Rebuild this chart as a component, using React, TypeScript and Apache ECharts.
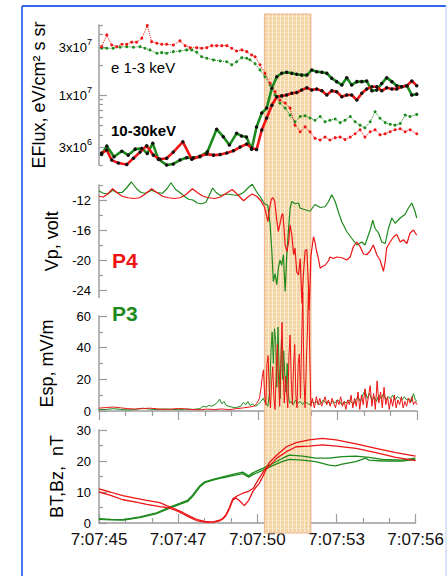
import React, { useEffect, useRef } from 'react';
import * as echarts from 'echarts';

// Time is given in seconds after 7:07:45 UT.
const timeMin = 0;
const timeMax = 11;
const timeStep = 2.75;
const burstWindow = [5.72, 7.33];

// Electron energy flux, in units of 1e6 eV/cm2 s sr: [t, flux]
const eLowP4: [number, number][] = [
  [0.09, 30.4], [0.27, 39.8], [0.44, 31.6], [0.61, 30.4], [0.79, 32.1], [0.96, 32.1], [1.13, 33.7], [1.3, 33.7],
  [1.48, 36.9], [1.67, 49.3], [1.82, 34.1], [2.0, 32.9], [2.17, 32.1], [2.34, 32.1], [2.57, 31.6], [2.8, 34.7],
  [2.98, 31.1], [3.15, 29.7], [3.38, 29.7], [3.55, 29.3], [3.73, 29.7], [3.9, 31.1], [4.07, 31.1], [4.25, 31.1],
  [4.42, 31.1], [4.59, 29.3], [4.76, 27.5], [4.94, 28.2], [5.11, 27.1], [5.28, 25.1], [5.4, 24.1], [5.57, 20.0],
  [5.74, 16.5], [5.92, 13.1], [6.09, 10.8], [6.26, 8.9], [6.44, 8.3], [6.61, 7.4], [6.78, 5.0], [6.96, 4.3],
  [7.13, 4.8], [7.3, 4.3], [7.47, 3.7], [7.65, 3.55], [7.82, 3.8], [7.99, 3.55], [8.17, 3.75], [8.34, 3.8],
  [8.51, 3.6], [8.69, 3.8], [8.86, 4.1], [9.03, 4.5], [9.2, 3.8], [9.38, 4.3], [9.55, 4.5], [9.72, 4.0],
  [9.9, 4.1], [10.07, 4.3], [10.24, 4.5], [10.42, 4.6], [10.59, 4.3], [10.76, 4.5], [10.99, 4.1],
];
const eLowP3: [number, number][] = [
  [0.09, 29.3], [0.27, 29.3], [0.49, 29.3], [0.73, 30.0], [0.96, 30.4], [1.19, 30.0], [1.42, 30.4], [1.59, 29.3],
  [1.76, 28.2], [2.0, 26.1], [2.17, 26.5], [2.34, 26.1], [2.57, 27.1], [2.8, 27.5], [3.03, 28.2], [3.21, 28.2],
  [3.38, 26.7], [3.55, 24.1], [3.73, 23.3], [3.96, 22.4], [4.19, 21.9], [4.42, 21.5], [4.59, 20.0], [4.76, 21.5],
  [4.94, 23.6], [5.11, 23.3], [5.22, 22.5], [5.4, 20.5], [5.57, 17.8], [5.74, 15.2], [5.92, 12.6], [6.09, 10.0],
  [6.26, 8.3], [6.44, 7.4], [6.61, 6.3], [6.78, 5.4], [6.96, 6.1], [7.13, 6.2], [7.3, 5.9], [7.47, 5.6],
  [7.65, 6.1], [7.82, 5.4], [7.99, 5.6], [8.17, 5.75], [8.34, 5.3], [8.51, 5.6], [8.69, 6.1], [8.86, 5.4],
  [9.03, 5.0], [9.2, 4.7], [9.38, 5.4], [9.55, 6.8], [9.72, 5.85], [9.9, 5.3], [10.07, 5.1], [10.24, 5.0],
  [10.42, 5.2], [10.59, 6.3], [10.76, 6.1], [10.99, 6.4],
];
const eHighP4: [number, number][] = [
  [0.09, 2.63], [0.27, 2.82], [0.44, 2.24], [0.67, 2.09], [0.96, 2.02], [1.19, 2.34], [1.42, 2.69], [1.65, 3.11],
  [1.88, 2.51], [2.11, 2.28], [2.34, 2.34], [2.57, 2.69], [2.9, 3.41], [3.21, 2.28], [3.49, 2.45], [3.72, 2.57],
  [3.96, 2.51], [4.19, 2.54], [4.42, 2.63], [4.65, 2.77], [4.88, 3.02], [5.11, 3.24], [5.28, 2.95], [5.45, 2.85],
  [5.63, 4.47], [5.8, 5.9], [5.98, 7.9], [6.15, 9.6], [6.32, 9.8], [6.49, 10.0], [6.67, 10.4], [6.84, 10.6],
  [7.01, 11.2], [7.19, 11.8], [7.36, 11.2], [7.53, 11.5], [7.71, 11.0], [7.88, 10.0], [8.05, 11.0], [8.22, 10.8],
  [8.4, 9.6], [8.57, 10.0], [8.74, 10.0], [8.92, 8.9], [9.09, 10.4], [9.26, 11.5], [9.44, 12.1], [9.61, 12.1],
  [9.78, 11.0], [9.95, 11.8], [10.13, 11.5], [10.3, 11.5], [10.47, 12.1], [10.65, 12.4], [10.82, 13.8], [10.99, 12.4],
];
const eHighP3: [number, number][] = [
  [0.09, 2.55], [0.27, 3.09], [0.52, 2.42], [0.79, 2.75], [1.01, 2.51], [1.25, 2.88], [1.48, 2.93], [1.67, 2.61],
  [1.86, 3.29], [2.05, 2.29], [2.34, 2.0], [2.57, 2.05], [2.8, 2.24], [3.03, 2.36], [3.26, 2.36], [3.49, 2.42],
  [3.75, 2.71], [4.07, 4.54], [4.3, 3.83], [4.51, 3.16], [4.76, 4.14], [4.93, 3.9], [5.1, 3.8], [5.28, 2.87],
  [5.45, 4.8], [5.63, 6.6], [5.8, 7.4], [5.98, 11.7], [6.15, 15.2], [6.32, 16.5], [6.49, 16.9], [6.67, 16.5],
  [6.84, 16.1], [7.01, 15.8], [7.19, 15.8], [7.36, 17.8], [7.53, 17.1], [7.71, 16.9], [7.88, 16.5], [8.05, 14.7],
  [8.22, 13.6], [8.4, 12.6], [8.57, 14.9], [8.74, 12.6], [8.92, 13.6], [9.09, 13.6], [9.26, 13.8], [9.44, 11.0],
  [9.61, 11.2], [9.78, 13.0], [9.95, 14.9], [10.13, 13.6], [10.3, 12.4], [10.47, 12.1], [10.65, 12.4], [10.82, 10.0],
  [10.99, 10.2],
];
const fluxMajorTicks = [3, 10, 30];
const fluxMinorTicks = [2, 4, 5, 6, 7, 8, 9, 20, 40, 50];
const fluxTickText: Record<number, [string, string]> = { 3: ['3x10', '6'], 10: ['1x10', '7'], 30: ['3x10', '7'] };

// Probe potential, volt: [t, Vp]
const vpP4: [number, number][] = [
  [0.0, -11.5], [0.15, -11.6], [0.3, -11.2], [0.47, -10.5], [0.62, -11.0], [0.8, -11.5], [1.0, -11.7], [1.2, -11.8],
  [1.4, -11.7], [1.6, -11.2], [1.82, -10.5], [2.0, -11.0], [2.2, -11.5], [2.4, -11.7], [2.6, -11.8], [2.8, -11.7],
  [3.0, -11.3], [3.23, -10.5], [3.4, -11.0], [3.6, -11.5], [3.8, -11.7], [4.0, -11.8], [4.2, -11.6], [4.4, -11.1],
  [4.61, -10.6], [4.8, -11.3], [5.0, -12.1], [5.15, -11.6], [5.3, -11.2], [5.45, -11.5], [5.6, -12.1], [5.72, -12.9],
  [5.78, -13.8], [5.84, -14.9], [5.9, -13.2], [5.96, -11.9], [6.02, -11.7], [6.08, -12.2], [6.14, -14.4], [6.2, -16.2],
  [6.26, -15.2], [6.32, -14.0], [6.36, -13.8], [6.4, -15.8], [6.44, -18.0], [6.5, -18.9], [6.56, -17.6], [6.61, -15.3],
  [6.67, -16.6], [6.73, -19.3], [6.78, -18.4], [6.84, -21.6], [6.9, -22.0], [6.96, -19.8], [7.02, -25.8], [7.07, -22.0],
  [7.13, -18.7], [7.19, -18.6], [7.24, -22.9], [7.27, -26.7], [7.3, -23.5], [7.33, -19.5], [7.42, -16.9], [7.47, -17.6],
  [7.53, -18.9], [7.59, -19.8], [7.65, -21.1], [7.71, -20.9], [7.82, -20.7], [7.94, -20.1], [7.99, -19.6], [8.11, -19.8],
  [8.22, -19.6], [8.4, -19.7], [8.57, -20.0], [8.69, -19.6], [8.8, -18.2], [8.92, -17.6], [9.03, -18.2], [9.15, -19.2],
  [9.26, -19.3], [9.38, -18.8], [9.49, -18.0], [9.61, -19.3], [9.72, -20.0], [9.84, -21.5], [9.9, -20.2], [9.95, -18.4],
  [10.07, -17.6], [10.19, -16.9], [10.3, -16.6], [10.42, -17.6], [10.53, -17.3], [10.65, -17.8], [10.76, -16.4],
  [10.88, -16.0], [10.99, -16.7],
];
const vpP3: [number, number][] = [
  [0.0, -10.8], [0.15, -11.1], [0.3, -11.2], [0.47, -10.7], [0.62, -11.0], [0.8, -11.0], [0.95, -10.4], [1.12, -9.6],
  [1.3, -10.5], [1.45, -11.0], [1.6, -11.1], [1.82, -10.7], [2.0, -11.0], [2.2, -11.1], [2.35, -10.5], [2.49, -9.7],
  [2.65, -10.6], [2.8, -11.0], [2.95, -11.5], [3.1, -11.9], [3.25, -12.0], [3.4, -12.4], [3.55, -12.5], [3.7, -12.3],
  [3.8, -11.5], [3.93, -10.4], [4.05, -11.0], [4.2, -11.4], [4.4, -11.2], [4.6, -11.3], [4.8, -11.4], [5.0, -11.0],
  [5.15, -10.4], [5.3, -9.9], [5.45, -10.9], [5.6, -11.7], [5.72, -12.5], [5.84, -12.7], [5.92, -15.3], [5.98, -18.9],
  [6.03, -22.9], [6.09, -21.8], [6.15, -23.3], [6.2, -21.2], [6.26, -20.0], [6.32, -20.7], [6.38, -19.3], [6.41, -21.9],
  [6.44, -24.2], [6.49, -19.8], [6.55, -16.2], [6.61, -13.1], [6.67, -12.2], [6.78, -12.5], [6.9, -12.4], [6.96, -13.1],
  [7.13, -13.3], [7.3, -13.5], [7.47, -12.6], [7.65, -13.0], [7.82, -12.9], [7.94, -12.2], [8.05, -11.3], [8.17, -12.2],
  [8.28, -13.6], [8.4, -14.9], [8.57, -16.2], [8.74, -17.1], [8.92, -18.0], [9.09, -17.6], [9.2, -18.0], [9.38, -16.0],
  [9.47, -14.7], [9.55, -15.8], [9.67, -16.4], [9.78, -17.6], [9.9, -17.8], [10.01, -15.8], [10.13, -14.4],
  [10.24, -15.1], [10.42, -14.4], [10.59, -13.9], [10.7, -13.1], [10.82, -12.4], [10.93, -13.5], [10.99, -14.4],
];
const vpMajorTicks = [-24, -20, -16, -12];
const vpMinorTicks = [-22, -18, -14, -10];

// Electric field amplitude, mV/m: [t, Esp]
const espP4: [number, number][] = [
  [0.0, 1.8], [0.25, 2.2], [0.5, 2.5], [0.75, 2.0], [1.0, 1.5], [1.25, 1.2], [1.5, 1.5], [1.75, 1.8], [2.0, 1.4],
  [2.25, 1.0], [2.5, 1.2], [2.75, 1.6], [3.0, 1.3], [3.25, 0.9], [3.5, 0.8], [3.75, 1.2], [4.0, 0.9], [4.25, 1.3],
  [4.5, 0.8], [4.75, 1.5], [5.0, 2.0], [5.2, 2.5], [5.35, 3.0], [5.45, 4.5], [5.55, 8], [5.6, 14], [5.65, 22],
  [5.69, 26], [5.73, 10], [5.77, 4], [5.81, 30], [5.85, 35], [5.89, 12], [5.93, 2], [5.97, 18], [6.01, 28], [6.05, 8],
  [6.09, 1], [6.13, 25], [6.17, 42], [6.21, 20], [6.25, 3], [6.29, 30], [6.33, 56], [6.37, 25], [6.41, 5], [6.45, 22],
  [6.49, 12], [6.53, 2], [6.57, 35], [6.61, 48], [6.65, 20], [6.69, 4], [6.73, 28], [6.77, 42], [6.81, 10], [6.85, 2],
  [6.89, 30], [6.93, 36], [6.97, 8], [7.01, 45], [7.05, 75], [7.09, 20], [7.13, 2], [7.17, 30], [7.21, 50], [7.25, 80],
  [7.29, 35], [7.33, 3], [7.38, 8], [7.45, 2], [7.52, 9], [7.58, 4], [7.64, 8], [7.7, 3], [7.76, 6], [7.82, 9],
  [7.88, 4], [7.94, 7], [8.0, 3], [8.06, 8], [8.12, 5], [8.18, 2], [8.24, 7], [8.3, 4], [8.36, 9], [8.42, 3], [8.48, 6],
  [8.54, 1], [8.6, 7], [8.66, 4], [8.72, 10], [8.78, 2], [8.84, 8], [8.9, 3], [8.96, 12], [9.02, 1], [9.08, 10],
  [9.14, 4], [9.2, 14], [9.26, 2], [9.32, 9], [9.38, 16], [9.44, 3], [9.5, 11], [9.56, 1], [9.62, 19], [9.68, 5],
  [9.74, 12], [9.8, 2], [9.86, 15], [9.92, 4], [9.98, 9], [10.04, 1], [10.1, 8], [10.16, 3], [10.22, 10], [10.28, 2],
  [10.34, 7], [10.4, 4], [10.46, 9], [10.52, 2], [10.58, 6], [10.64, 3], [10.7, 8], [10.76, 5], [10.82, 9], [10.88, 4],
  [10.94, 6], [11.0, 4],
];
const espP3: [number, number][] = [
  [0.0, 0.8], [0.25, 1.0], [0.5, 1.5], [0.75, 1.0], [1.0, 0.7], [1.25, 1.0], [1.5, 1.8], [1.75, 1.2], [2.0, 0.9],
  [2.25, 1.3], [2.5, 1.0], [2.75, 0.8], [3.0, 1.2], [3.25, 1.0], [3.5, 1.5], [3.6, 3.0], [3.7, 2.5], [3.8, 3.5],
  [3.9, 3.0], [4.0, 4.0], [4.1, 5.5], [4.17, 7.5], [4.25, 4.5], [4.32, 6.0], [4.4, 3.5], [4.5, 3.0], [4.6, 2.5],
  [4.7, 2.0], [4.8, 2.5], [4.9, 3.0], [5.0, 5.5], [5.08, 4.0], [5.15, 6.0], [5.22, 3.5], [5.3, 4.5], [5.4, 3.0],
  [5.5, 4.0], [5.6, 6], [5.68, 8], [5.76, 5], [5.84, 3], [5.9, 12], [5.95, 38], [5.99, 50], [6.03, 30], [6.07, 52],
  [6.11, 45], [6.15, 15], [6.19, 53], [6.23, 28], [6.27, 8], [6.31, 45], [6.35, 20], [6.39, 38], [6.43, 22],
  [6.47, 12], [6.51, 30], [6.55, 10], [6.59, 5], [6.65, 6], [6.72, 4], [6.8, 7], [6.88, 5], [6.96, 6], [7.04, 4],
  [7.12, 6], [7.2, 5], [7.28, 4], [7.36, 6], [7.44, 5], [7.52, 6], [7.6, 4], [7.68, 5], [7.76, 7], [7.84, 5],
  [7.92, 6], [8.0, 4], [8.08, 6], [8.16, 5], [8.24, 7], [8.32, 6], [8.4, 4], [8.48, 6], [8.56, 5], [8.64, 7],
  [8.72, 6], [8.8, 4], [8.88, 7], [8.96, 9], [9.04, 6], [9.12, 10], [9.2, 13], [9.28, 8], [9.36, 11], [9.44, 7],
  [9.52, 9], [9.6, 6], [9.68, 10], [9.76, 8], [9.84, 11], [9.92, 7], [10.0, 9], [10.08, 8], [10.16, 10], [10.24, 7],
  [10.32, 9], [10.4, 8], [10.48, 7], [10.56, 9], [10.64, 7], [10.72, 8], [10.8, 6], [10.88, 11], [10.94, 7], [11.0, 6],
];

// Magnetic field, nT: [t, B]
const bP4Upper: [number, number][] = [
  [0.0, 11.0], [0.38, 10.0], [0.83, 8.8], [1.25, 8.0], [1.66, 7.3], [2.11, 6.6], [2.35, 5.6], [2.63, 4.6],
  [2.91, 3.4], [3.15, 2.2], [3.39, 1.2], [3.67, 0.5], [3.94, 0.3], [4.19, 0.9], [4.3, 1.5], [4.42, 2.8],
  [4.53, 5.0], [4.65, 7.8], [4.81, 8.8], [5.0, 9.6], [5.17, 10.1], [5.36, 11.2], [5.53, 13.9], [5.64, 15.5],
  [5.74, 17.0], [5.92, 19.5], [6.19, 22.0], [6.51, 24.6], [6.85, 25.9], [7.3, 26.8], [7.75, 27.3], [8.24, 26.8],
  [8.93, 25.5], [9.62, 24.1], [10.31, 22.7], [11.0, 21.6],
];
const bP4Lower: [number, number][] = [
  [0.0, 10.0], [0.38, 9.0], [0.83, 7.5], [1.25, 6.8], [1.66, 6.0], [2.11, 5.3], [2.35, 5.0], [2.63, 4.2],
  [2.91, 3.0], [3.15, 1.8], [3.39, 0.8], [3.67, 0.3], [3.94, 0.2], [4.19, 0.7], [4.3, 1.3], [4.42, 2.5],
  [4.53, 4.6], [4.65, 7.4], [4.76, 8.1], [4.9, 7.0], [5.05, 5.6], [5.2, 7.3], [5.34, 10.1], [5.45, 11.5],
  [5.57, 12.8], [5.69, 15.0], [5.8, 17.2], [5.98, 19.0], [6.19, 21.0], [6.51, 23.0], [6.85, 24.6], [7.3, 24.8],
  [7.75, 25.2], [8.24, 24.8], [8.93, 24.1], [9.62, 22.7], [10.31, 21.2], [11.0, 20.1],
];
const bP3Upper: [number, number][] = [
  [0.0, 1.4], [0.42, 1.2], [0.84, 1.1], [1.42, 2.0], [2.0, 3.3], [2.46, 5.1], [2.8, 6.3], [3.09, 7.4], [3.25, 9.0],
  [3.38, 10.6], [3.52, 12.2], [3.67, 13.3], [3.96, 14.1], [4.3, 14.9], [4.65, 15.7], [4.99, 16.4], [5.2, 15.2],
  [5.34, 16.2], [5.69, 17.6], [6.03, 19.2], [6.38, 20.9], [6.61, 21.9], [7.07, 21.6], [7.53, 20.9], [7.99, 20.9],
  [8.45, 21.4], [8.92, 21.6], [9.38, 21.2], [9.84, 20.5], [10.53, 20.3], [10.99, 20.9],
];
const bP3Lower: [number, number][] = [
  [0.0, 1.2], [0.42, 1.0], [0.84, 0.9], [1.42, 1.7], [2.0, 3.0], [2.46, 4.8], [2.8, 6.0], [3.09, 7.0], [3.25, 8.5],
  [3.38, 10.1], [3.52, 11.8], [3.67, 13.0], [3.96, 13.8], [4.3, 14.6], [4.65, 15.3], [4.99, 15.9], [5.2, 14.8],
  [5.34, 15.6], [5.69, 17.0], [6.03, 18.5], [6.38, 19.9], [6.61, 20.5], [7.07, 20.3], [7.53, 19.8], [7.99, 18.7],
  [8.22, 18.4], [8.45, 19.0], [8.92, 19.8], [9.26, 20.9], [9.38, 20.3], [9.84, 20.0], [10.53, 20.0], [10.99, 20.5],
];

const FONT = "'Liberation Sans', Arial, Helvetica, sans-serif";
const RED = '#ee1414';
const GREEN = '#1c8a1c';
const AXIS = '#9c9c9c';

const timeLabel = (v: number) => `7:07:${45 + Math.floor(v + 1e-6)}`;

const plotLeft = 99;
const plotWidth = 318;

function timeAxis(gridIndex: number, extra: Record<string, unknown> = {}) {
  return {
    type: 'value', gridIndex, min: timeMin, max: timeMax, interval: timeStep,
    splitLine: { show: false }, show: false, ...extra,
  };
}

function buildOption(bandFill: unknown) {
  const axisLine = { show: true, lineStyle: { color: AXIS, width: 1.5 } };
  const tickStyle = { color: AXIS, width: 1.2 };
  const labelStyle = { color: '#000', fontSize: 13, fontFamily: FONT };
  const nameStyle = { color: '#000', fontSize: 18, fontFamily: FONT };
  const line = (data: [number, number][], color: string, width: number, xi: number, yi: number, extra = {}) => ({
    type: 'line', data, xAxisIndex: xi, yAxisIndex: yi, symbol: 'none', z: 3,
    lineStyle: { color, width }, itemStyle: { color }, ...extra,
  });

  return {
    animation: false,
    backgroundColor: '#ffffff',
    textStyle: { fontFamily: FONT },
    grid: [
      { left: plotLeft, width: plotWidth, top: 25, height: 140 },
      { left: plotLeft, width: plotWidth, top: 185, height: 112.5 },
      { left: plotLeft, width: plotWidth, top: 316, height: 95 },
      { left: plotLeft, width: plotWidth, top: 430, height: 93 },
      { left: plotLeft, width: plotWidth, top: 14, height: 519 },
    ],
    xAxis: [
      timeAxis(0),
      timeAxis(1),
      timeAxis(2, {
        show: true, axisLine,
        axisTick: { show: true, inside: false, length: 9, lineStyle: tickStyle },
        minorTick: { show: true, splitNumber: 3, length: 5, lineStyle: tickStyle },
        axisLabel: { show: false },
      }),
      timeAxis(3, {
        show: true, axisLine,
        axisTick: { show: true, inside: true, length: 9, lineStyle: tickStyle },
        minorTick: { show: true, splitNumber: 3, length: 5, lineStyle: tickStyle },
        axisLabel: { show: true, color: '#111', fontSize: 17, fontFamily: FONT, margin: 8, formatter: timeLabel },
      }),
      timeAxis(4),
    ],
    yAxis: [
      {
        type: 'log', gridIndex: 0, min: 2, max: 50, position: 'left',
        name: 'EFlux, eV/cm² s sr', nameLocation: 'middle', nameRotate: 90, nameGap: 50, nameTextStyle: nameStyle,
        axisLine, splitLine: { show: false },
        axisTick: { show: true, inside: true, length: 8, lineStyle: tickStyle, customValues: fluxMajorTicks },
        axisLabel: {
          show: true, margin: 7, customValues: fluxMajorTicks,
          formatter: (v: number) => {
            const t = fluxTickText[Math.round(v)];
            return t ? `{b|${t[0]}}{s|${t[1]}}` : '';
          },
          rich: {
            b: { fontSize: 13, color: '#000', fontFamily: FONT, lineHeight: 20 },
            s: { fontSize: 9, color: '#000', fontFamily: FONT, verticalAlign: 'top' },
          },
        },
      },
      {
        type: 'log', gridIndex: 0, min: 2, max: 50, position: 'left', offset: 0,
        axisLine: { show: false }, splitLine: { show: false }, axisLabel: { show: false },
        axisTick: { show: true, inside: true, length: 4, lineStyle: tickStyle, customValues: fluxMinorTicks },
      },
      {
        type: 'value', gridIndex: 1, min: -25, max: -10, position: 'left',
        name: 'Vp, volt', nameLocation: 'middle', nameRotate: 90, nameGap: 33, nameTextStyle: nameStyle,
        axisLine, splitLine: { show: false },
        axisTick: { show: true, inside: true, length: 8, lineStyle: tickStyle, customValues: vpMajorTicks },
        axisLabel: { show: true, margin: 8, customValues: vpMajorTicks, ...labelStyle },
      },
      {
        type: 'value', gridIndex: 1, min: -25, max: -10, position: 'left', offset: 0,
        axisLine: { show: false }, splitLine: { show: false }, axisLabel: { show: false },
        axisTick: { show: true, inside: true, length: 4, lineStyle: tickStyle, customValues: vpMinorTicks },
      },
      {
        type: 'value', gridIndex: 2, min: 0, max: 60, interval: 20, position: 'left',
        name: 'Esp, mV/m', nameLocation: 'middle', nameRotate: 90, nameGap: 43, nameTextStyle: nameStyle,
        axisLine, splitLine: { show: false },
        axisTick: { show: true, inside: true, length: 8, lineStyle: tickStyle },
        minorTick: { show: true, splitNumber: 2, length: 4, lineStyle: tickStyle },
        axisLabel: { show: true, margin: 8, ...labelStyle },
      },
      {
        type: 'value', gridIndex: 3, min: 0, max: 30, interval: 10, position: 'left',
        name: 'BT,Bz,  nT', nameLocation: 'middle', nameRotate: 90, nameGap: 29, nameTextStyle: nameStyle,
        axisLine, splitLine: { show: false },
        axisTick: { show: true, inside: true, length: 8, lineStyle: tickStyle },
        minorTick: { show: true, splitNumber: 2, length: 4, lineStyle: tickStyle },
        axisLabel: { show: true, margin: 8, ...labelStyle },
      },
      { type: 'value', gridIndex: 4, min: 0, max: 1, show: false, splitLine: { show: false } },
    ],
    series: [
      {
        type: 'custom', xAxisIndex: 4, yAxisIndex: 6, z: 1, silent: true,
        data: [burstWindow],
        renderItem: (_p: unknown, api: any) => {
          const a = api.coord([api.value(0), 1]);
          const b = api.coord([api.value(1), 0]);
          return {
            type: 'rect',
            shape: { x: a[0], y: a[1], width: b[0] - a[0], height: b[1] - a[1] },
            style: { fill: bandFill, stroke: '#f0b08c', lineWidth: 1 },
          };
        },
      },
      line(eLowP3, GREEN, 1, 0, 0, { symbol: 'circle', symbolSize: 3, lineStyle: { color: GREEN, width: 1, type: 'dotted' } }),
      line(eLowP4, RED, 1, 0, 0, { symbol: 'circle', symbolSize: 3, lineStyle: { color: RED, width: 1, type: 'dotted' } }),
      line(eHighP3, GREEN, 2.6, 0, 0, { symbol: 'circle', symbolSize: 3.5, itemStyle: { color: '#111' } }),
      line(eHighP4, RED, 2.6, 0, 0, { symbol: 'circle', symbolSize: 3.5, itemStyle: { color: '#111' } }),
      line(vpP3, GREEN, 1.2, 1, 2, { clip: false }),
      line(vpP4, RED, 1.2, 1, 2, { clip: false }),
      line(espP3, GREEN, 1, 2, 4, { clip: false }),
      line(espP4, RED, 1, 2, 4, { clip: false }),
      line(bP3Upper, GREEN, 1.3, 3, 5),
      line(bP3Lower, GREEN, 1.3, 3, 5),
      line(bP4Upper, RED, 1.3, 3, 5),
      line(bP4Lower, RED, 1.3, 3, 5),
    ],
    graphic: [
      { type: 'line', z: 20, shape: { x1: 22, y1: 6, x2: 446, y2: 6 }, style: { stroke: '#3566f0', lineWidth: 2 } },
      { type: 'line', z: 20, shape: { x1: 22, y1: 6, x2: 22, y2: 576 }, style: { stroke: '#4676f2', lineWidth: 2 } },
      { type: 'line', z: 20, shape: { x1: 446, y1: 6, x2: 446, y2: 576 }, style: { stroke: '#b6c9f6', lineWidth: 1 } },
      { type: 'text', z: 20, x: 111, y: 67, style: { text: 'e 1-3 keV', font: `15px ${FONT}`, fill: '#000', textVerticalAlign: 'middle' } },
      { type: 'text', z: 20, x: 111, y: 130, style: { text: '10-30keV', font: `bold 15px ${FONT}`, fill: '#000', textVerticalAlign: 'middle' } },
      { type: 'text', z: 20, x: 112, y: 260, style: { text: 'P4', font: `bold 21px ${FONT}`, fill: RED, textVerticalAlign: 'middle' } },
      { type: 'text', z: 20, x: 112, y: 313, style: { text: 'P3', font: `bold 21px ${FONT}`, fill: GREEN, textVerticalAlign: 'middle' } },
    ],
  };
}

export default function App() {
  const ref = useRef<HTMLDivElement>(null);
  useEffect(() => {
    if (!ref.current) return;
    // Small woven tile for the shaded burst interval
    const tile = document.createElement('canvas');
    tile.width = 4;
    tile.height = 4;
    const ctx = tile.getContext('2d');
    let bandFill: unknown = '#f4d8ac';
    if (ctx) {
      ctx.fillStyle = '#f2d3a2';
      ctx.fillRect(0, 0, 4, 4);
      ctx.fillStyle = '#fbeedb';
      ctx.fillRect(0, 0, 1, 4);
      ctx.fillStyle = '#f8e5c6';
      ctx.fillRect(0, 0, 4, 1);
      bandFill = { image: tile, repeat: 'repeat' };
    }
    const chart = echarts.init(ref.current, null, { renderer: 'svg' });
    chart.setOption(buildOption(bandFill) as any);
    return () => chart.dispose();
  }, []);
  return <div ref={ref} style={{ position: 'fixed', left: 0, top: 0, width: 447, height: 576, background: '#fff' }} />;
}
